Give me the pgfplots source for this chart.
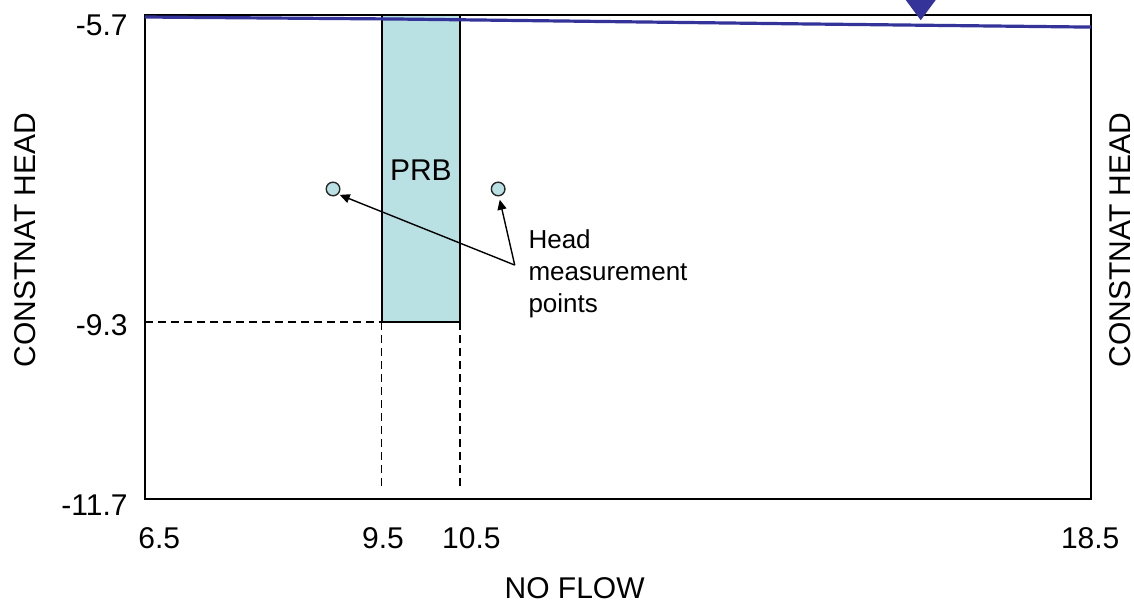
\documentclass[border=0pt]{standalone}
\usepackage{pgfplots}
\pgfplotsset{compat=1.18}
\usepackage{fontspec}
\setmainfont{Liberation Sans}
\usetikzlibrary{arrows.meta,calc}
\definecolor{prbfill}{HTML}{B9E0E3}
\definecolor{watertable}{HTML}{333399}
\begin{document}
\begin{tikzpicture}
\begin{axis}[
  scale only axis, width=473pt, height=242pt,
  xmin=6.5, xmax=18.5, ymin=-11.7, ymax=-5.7,
  axis line style={line width=1pt},
  clip=false,
  major tick length=0pt,
  xtick={6.68,9.52,10.64,18.49}, xticklabels={6.5,9.5,10.5,18.5},
  ytick={-9.543,-5.824}, yticklabels={-9.3,-5.7},
  extra y ticks={-11.7}, extra y tick labels={-11.7},
  extra y tick style={yticklabel style={yshift=-3pt}},
  ticklabel style={font=\fontsize{15}{18}\selectfont},
  xticklabel style={inner sep=0pt, yshift=-14pt},
  yticklabel style={inner sep=0pt, xshift=-8.5pt},
]
% PRB barrier
\addplot[fill=prbfill, draw=black, line width=1pt]
  coordinates {(9.5,-5.7) (10.5,-5.7) (10.5,-9.506) (9.5,-9.506)} --cycle;
% dashed guides
\addplot[black, line width=0.9pt, dash pattern=on 4pt off 2.5pt]
  coordinates {(6.5,-9.506) (9.5,-9.506)};
\addplot[black, line width=0.9pt, dash pattern=on 4pt off 2.5pt]
  coordinates {(9.5,-9.506) (9.5,-11.59)};
\addplot[black, line width=0.9pt, dash pattern=on 4pt off 2.5pt]
  coordinates {(10.5,-9.506) (10.5,-11.59)};
% water table
\addplot[watertable, line width=1.6pt]
  coordinates {(6.5,-5.725) (9.7,-5.75) (14.8,-5.81) (18.5,-5.85)};
\addplot[fill=watertable, draw=none]
  coordinates {(16.15,-5.514) (16.53,-5.514) (16.34,-5.765)} --cycle;
% head measurement points
\addplot[only marks, mark=*, mark size=3.4pt,
  mark options={fill=prbfill, draw=black!85, line width=0.7pt}]
  coordinates {(8.885,-7.857) (10.98,-7.857)};
\node[font=\fontsize{15}{18}\selectfont] at (axis cs:10.0,-7.62) {PRB};
\draw[-{Triangle[length=5pt,width=4.5pt]}, line width=0.7pt]
  (axis cs:11.19,-8.80) -- (axis cs:8.97,-7.93);
\draw[-{Triangle[length=5pt,width=4.5pt]}, line width=0.7pt]
  (axis cs:11.19,-8.80) -- (axis cs:11.00,-7.99);
\node[anchor=west, align=left, inner sep=0pt,
  font=\fontsize{13}{16}\selectfont] at (axis cs:11.36,-8.91)
  {Head\\measurement\\points};
% boundary labels
\node[rotate=90, xshift=0pt, yshift=60pt, font=\fontsize{15}{18}\selectfont]
  at (axis cs:6.5,-8.49) {CONSTNAT HEAD};
\node[rotate=90, yshift=-14.5pt, font=\fontsize{15}{18}\selectfont]
  at (axis cs:18.5,-8.49) {CONSTNAT HEAD};
\node[yshift=-44.5pt, font=\fontsize{15}{18}\selectfont]
  at (axis cs:11.95,-11.7) {NO FLOW};
\end{axis}
\pgfresetboundingbox
\path[use as bounding box]
  ($(current axis.south west)+(-72.5pt,-53pt)$) rectangle
  ($(current axis.north east)+(21.5pt,7.5pt)$);
\end{tikzpicture}
\end{document}
